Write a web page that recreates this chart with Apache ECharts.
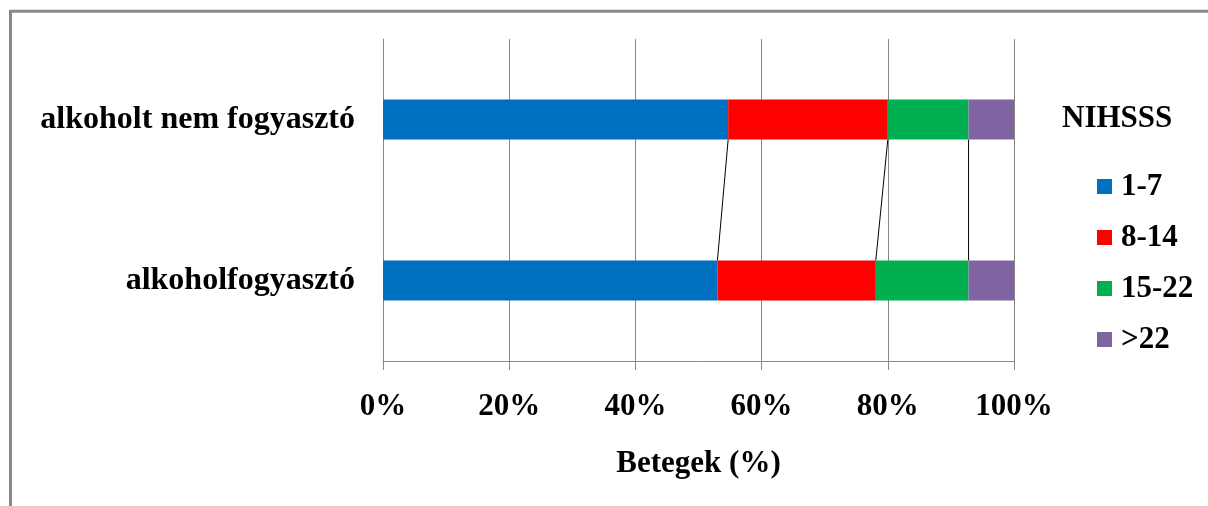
<!DOCTYPE html>
<html>
<head>
<meta charset="utf-8">
<script src="https://cdn.jsdelivr.net/npm/echarts@6/dist/echarts.min.js"></script>
<style>
  html, body { margin: 0; padding: 0; background: #fff; }
  #chart { width: 1208px; height: 506px; }
</style>
</head>
<body>
<div id="chart"></div>
<script>
// Categories, top to bottom
const categories = ['alkoholt nem fogyasztó', 'alkoholfogyasztó'];

// NIHSS score groups (share of patients, %)
const groupNames = ['1-7', '8-14', '15-22', '>22'];
const group1to7   = [54.7, 53.0];
const group8to14  = [25.3, 25.1];
const group15to22 = [12.8, 14.7];
const groupOver22 = [7.2, 7.2];

const xTicks = [0, 20, 40, 60, 80, 100];

const colors = ['#0070C0', '#FF0000', '#00B050', '#8064A2'];
const FONT = '"Liberation Serif", "Times New Roman", serif';
const BAR_W = 40;

const groups = [group1to7, group8to14, group15to22, groupOver22];

// Cumulative boundaries between stacked segments, used for the series lines
const boundaries = [];
let runTop = 0, runBottom = 0;
for (let i = 0; i < groups.length - 1; i++) {
  runTop += groups[i][0];
  runBottom += groups[i][1];
  boundaries.push([runTop, runBottom, 0]);
}

const barSeries = groups.map((vals, i) => ({
  name: groupNames[i],
  type: 'bar',
  stack: 'total',
  barWidth: BAR_W,
  itemStyle: { color: colors[i] },
  data: vals
}));

const seriesLines = {
  type: 'custom',
  silent: true,
  encode: { x: [0, 1], y: 2 },
  data: boundaries,
  renderItem: function (params, api) {
    const p0 = api.coord([api.value(0), 0]);
    const p1 = api.coord([api.value(1), 1]);
    return {
      type: 'line',
      shape: { x1: p0[0], y1: p0[1] + BAR_W / 2, x2: p1[0], y2: p1[1] - BAR_W / 2 },
      style: { stroke: '#000', lineWidth: 1 }
    };
  }
};

const chart = echarts.init(document.getElementById('chart'), null, { renderer: 'canvas' });
chart.setOption({
  animation: false,
  backgroundColor: '#fff',
  textStyle: { fontFamily: FONT },
  title: {
    text: 'NIHSSS',
    left: 1062,
    top: 103,
    padding: 0,
    textStyle: { fontFamily: FONT, fontWeight: 'bold', fontSize: 31, color: '#000' }
  },
  legend: {
    data: groupNames,
    orient: 'vertical',
    left: 1097,
    top: 171,
    padding: 0,
    itemWidth: 15,
    itemHeight: 15,
    itemGap: 20,
    icon: 'rect',
    textStyle: { fontFamily: FONT, fontWeight: 'bold', fontSize: 31, color: '#000', padding: [0, 0, 0, 4] }
  },
  graphic: [{
    type: 'rect',
    silent: true,
    shape: { x: 10.5, y: 11.3, width: 1400, height: 700 },
    style: { fill: 'none', stroke: '#888', lineWidth: 3 }
  }],
  grid: { left: 383, right: 194, top: 39, bottom: 145, containLabel: false },
  xAxis: {
    type: 'value',
    min: 0,
    max: 100,
    interval: 20,
    name: 'Betegek (%)',
    nameLocation: 'middle',
    nameGap: 87,
    nameTextStyle: { fontFamily: FONT, fontWeight: 'bold', fontSize: 31, color: '#000' },
    axisLine: { show: true, lineStyle: { color: '#888', width: 1 } },
    axisTick: { show: true, length: 9, lineStyle: { color: '#888' } },
    axisLabel: {
      margin: 30,
      fontFamily: FONT, fontWeight: 'bold', fontSize: 31, color: '#000',
      formatter: v => xTicks.includes(v) ? v + '%' : ''
    },
    splitLine: { show: true, lineStyle: { color: '#888', width: 1 } }
  },
  yAxis: {
    type: 'category',
    data: categories,
    inverse: true,
    axisLine: { show: true, lineStyle: { color: '#888', width: 1 } },
    axisTick: { show: false },
    axisLabel: { margin: 28, fontFamily: FONT, fontWeight: 'bold', fontSize: 32, color: '#000' },
    splitLine: { show: false }
  },
  series: barSeries.concat([seriesLines])
});
</script>
</body>
</html>
